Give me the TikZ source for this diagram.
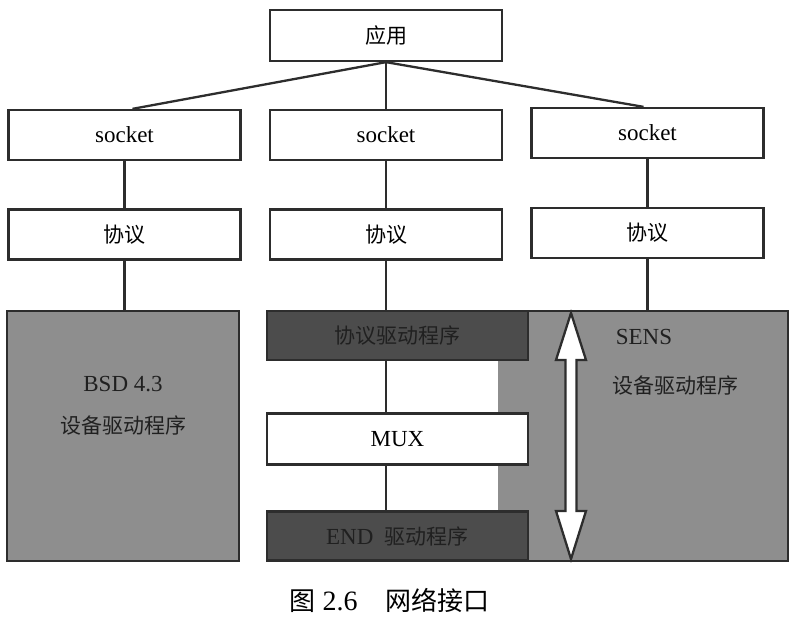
\documentclass[tikz,border=0pt]{standalone}
\usepackage{fontspec}
\setmainfont{Liberation Serif}
\newfontfamily\cjkfont{Noto Sans CJK SC}
\newcommand\zhtext[1]{{\cjkfont\fontsize{21}{24}\selectfont #1}}
\definecolor{edgec}{RGB}{45,45,45}
\definecolor{midgray}{RGB}{142,142,142}
\definecolor{darkbox}{RGB}{76,76,76}
\definecolor{darktext}{RGB}{32,32,32}
\begin{document}
\begin{tikzpicture}[x=1pt,y=-1pt,
  box/.style={draw=edgec, line width=2.3pt, fill=white, minimum width=232pt, minimum height=50pt, inner sep=0pt, font=\fontsize{23}{26}\selectfont},
  darkbx/.style={draw=edgec, line width=2.3pt, fill=darkbox, minimum width=261pt, minimum height=49pt, inner sep=0pt, text=darktext, font=\fontsize{23}{26}\selectfont},
  link/.style={draw=edgec, line width=2.3pt},
  lbl/.style={inner sep=0pt, text=darktext, font=\fontsize{23}{26}\selectfont}]
\useasboundingbox (0,0) rectangle (798,631);
% top layer
\node[box, minimum height=51pt] (app) at (386,35.5) {\zhtext{应用}};
\node[box] (sockL) at (124.5,135) {socket};
\node[box] (sockM) at (386,135) {socket};
\node[box] (sockR) at (647.5,133) {socket};
\node[box] (protL) at (124.5,234.5) {\zhtext{协议}};
\node[box] (protM) at (386,234.5) {\zhtext{协议}};
\node[box] (protR) at (647.5,233) {\zhtext{协议}};
\draw[link] (app.south) -- ([xshift=8pt]sockL.north);
\draw[link] (app.south) -- (sockM.north);
\draw[link] (app.south) -- ([xshift=-4pt]sockR.north);
\draw[link] (sockL) -- (protL);
\draw[link] (sockM) -- (protM);
\draw[link] (sockR) -- (protR);
% BSD
\node[draw=edgec, line width=2.3pt, fill=midgray, minimum width=232pt, minimum height=250pt, inner sep=0pt] (bsd) at (123,436) {};
\node[lbl] (bsdA) at (123,384) {BSD 4.3};
\node[lbl] (bsdB) at (123,425) {\zhtext{设备驱动程序}};
\draw[link] (protL) -- (protL |- bsd.north);
% SENS gray region
\node[fill=midgray, minimum width=290pt, minimum height=250pt, inner sep=0pt] (sens) at (643,436) {};
\draw[link, line join=miter] (sens.north west) ++(30,0) -- (sens.north east) -- (sens.south east) -- ++(-260,0);
\node[lbl] (sensA) at (644,337) {SENS};
\node[lbl] (sensB) at (675,385) {\zhtext{设备驱动程序}};
\draw[link] (protR) -- (protR |- sens.north);
% middle stack
\node[darkbx] (pdrv) at (397.5,335.5) {\zhtext{协议驱动程序}};
\node[box, minimum width=261pt, minimum height=51pt] (mux) at (397.5,439) {MUX};
\node[darkbx] (edrv) at (397.5,536) {END\hspace{0.5em}\zhtext{驱动程序}};
\draw[link] (protM) -- (protM |- pdrv.north);
\draw[link] (pdrv.south -| protM) -- (mux.north -| protM);
\draw[link] (mux.south -| protM) -- (edrv.north -| protM);
% double arrow
\draw[draw=edgec, line width=2.3pt, fill=white, line join=miter]
  (571,313) -- (586,360) -- (576.5,360) -- (576.5,511) -- (586,511) -- (571,559)
  -- (556,511) -- (565.5,511) -- (565.5,360) -- (556,360) -- cycle;
% caption
\node[inner sep=0pt, font=\fontsize{28}{32}\selectfont] (cap) at (389.5,600)
  {{\cjkfont\fontsize{26}{30}\selectfont 图} 2.6\hspace{1em}{\cjkfont\fontsize{26}{30}\selectfont 网络接口}};
\end{tikzpicture}
\end{document}
